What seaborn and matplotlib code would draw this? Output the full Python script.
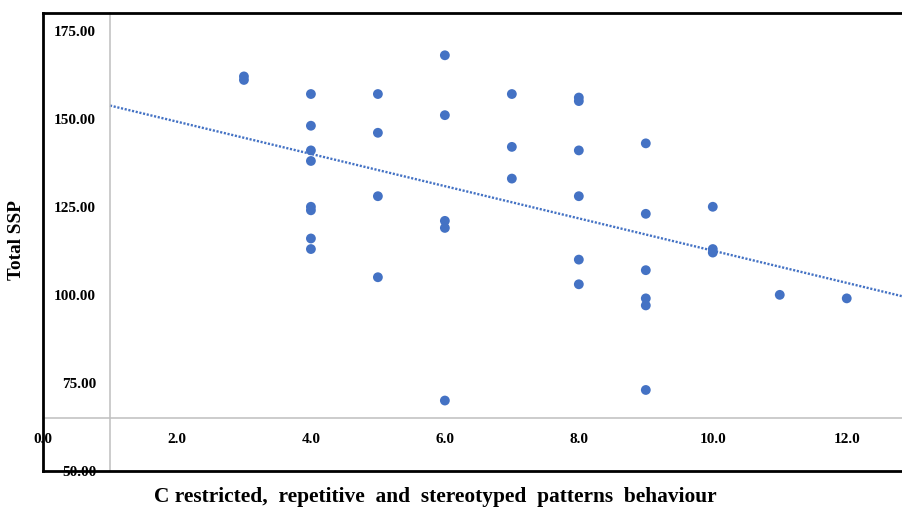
import numpy as np
import pandas as pd
import matplotlib
matplotlib.use("Agg")
import matplotlib.pyplot as plt
import seaborn as sns

# ---- data ----
x_vals = [3, 3,
          4, 4, 4, 4, 4, 4, 4, 4,
          5, 5, 5, 5,
          6, 6, 6, 6, 6,
          7, 7, 7,
          8, 8, 8, 8, 8, 8,
          9, 9, 9, 9, 9, 9,
          10, 10, 10,
          11,
          12]
y_vals = [162, 161,
          157, 148, 141, 138, 125, 124, 116, 113,
          157, 146, 128, 105,
          168, 151, 121, 119, 70,
          157, 142, 133,
          156, 155, 141, 128, 110, 103,
          143, 123, 107, 99, 97, 73,
          125, 113, 112,
          100,
          99]
x_ticks = [0, 2, 4, 6, 8, 10, 12]
y_ticks = [50, 75, 100, 125, 150, 175]
x_label = "C restricted,  repetitive  and  stereotyped  patterns  behaviour"
y_label = "Total SSP"

df = pd.DataFrame({"x": x_vals, "y": y_vals})

sns.set_theme(style="white")
plt.rcParams["font.family"] = ["Liberation Serif", "DejaVu Serif"]
plt.rcParams["font.weight"] = "bold"
plt.rcParams["text.color"] = "black"
plt.rcParams["axes.labelcolor"] = "black"

W, H = 903, 513
fig = plt.figure(figsize=(W / 100, H / 100), dpi=100)
fig.patch.set_facecolor("white")
ax = fig.add_axes([43 / W, (H - 471) / H, (W - 43) / W, (471 - 13) / H])
ax.set_facecolor("white")

blue = "#4472C4"
XMAX = 12.84
ax.set_xlim(0, XMAX)
ax.set_ylim(50, 180)

sns.scatterplot(data=df, x="x", y="y", ax=ax, color=blue, s=50,
                edgecolor="none", linewidth=0, zorder=3)

# linear trendline
slope, intercept = np.polyfit(df["x"], df["y"], 1)
xx = np.array([1.0, XMAX])
ax.plot(xx, slope * xx + intercept, color=blue, lw=1.7,
        linestyle=(0, (0.9, 0.7)), zorder=2)

# axes crossing like in the original
gray = "#BFBFBF"
for s in ["top", "right"]:
    ax.spines[s].set_visible(False)
ax.spines["left"].set_position(("data", 1))
ax.spines["bottom"].set_position(("data", 65))
for s in ["left", "bottom"]:
    ax.spines[s].set_color(gray)
    ax.spines[s].set_linewidth(1.1)

ax.set_xticks(x_ticks)
ax.set_xticklabels([f"{v:.1f}" for v in x_ticks])
ax.set_yticks(y_ticks)
ax.set_yticklabels([f"{v:.2f}" for v in y_ticks])
ax.tick_params(axis="both", direction="in", length=3.5, width=1, color=gray,
               labelsize=11, labelcolor="black")
ax.tick_params(axis="y", pad=10)
ax.tick_params(axis="x", pad=11)
for lab in ax.get_xticklabels() + ax.get_yticklabels():
    lab.set_fontweight("bold")

ax.set_xlabel(x_label, fontsize=15.4, fontweight="bold", va="center",
              color="black")
ax.xaxis.set_label_coords((435 - 43) / 860, (471 - 497) / 458)
ax.set_ylabel(y_label, fontsize=13.8, fontweight="bold", va="center",
              color="black")
ax.yaxis.set_label_coords((17 - 43) / 860, (471 - 240) / 458)

# black outer frame (left, top, bottom)
kw = dict(transform=ax.transAxes, color="black", lw=2, clip_on=False,
          solid_capstyle="projecting", zorder=5)
ax.plot([0, 0], [0, 1], **kw)
ax.plot([0, 1], [1, 1], **kw)
ax.plot([0, 1], [0, 0], **kw)

fig.savefig("out.png", dpi=100, facecolor="white")
